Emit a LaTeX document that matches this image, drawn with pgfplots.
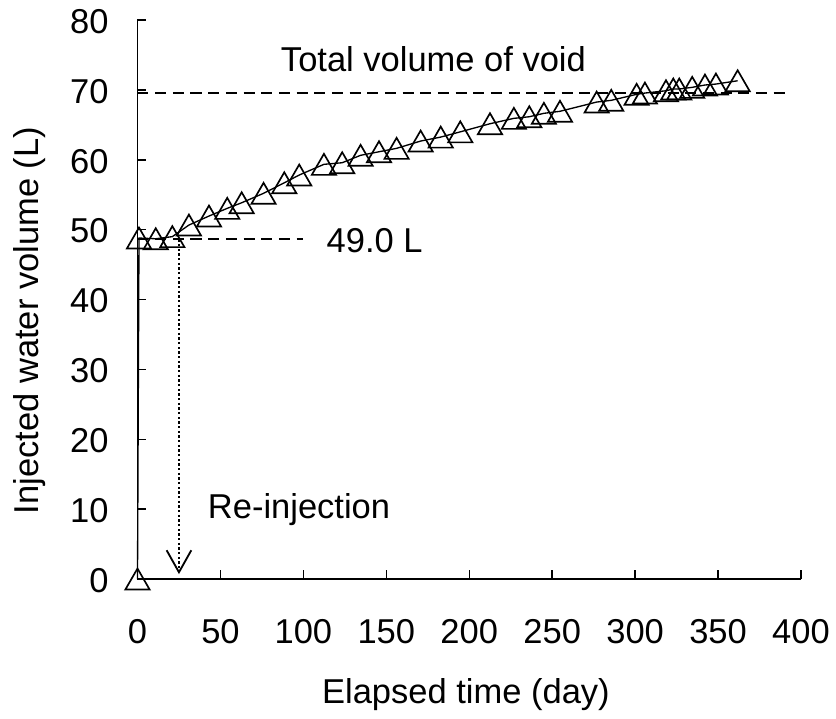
\documentclass[border=0pt]{standalone}
\usepackage{fontspec}
\setmainfont{Liberation Sans}
\usepackage{pgfplots}
\pgfplotsset{compat=1.18}
\usetikzlibrary{arrows.meta}
\begin{document}
\fontsize{10.35}{12.4}\selectfont
\begin{tikzpicture}
\begin{axis}[
  at={(0,0)}, anchor=south west,
  scale only axis, width=199.05pt, height=167.7pt,
  xmin=0, xmax=400, ymin=0, ymax=80,
  axis x line*=bottom, axis y line*=left,
  axis line style={-, line width=0.55pt, black},
  xtick={0,50,...,400}, ytick={0,10,...,80},
  tick align=inside, major tick length=2.7pt,
  tick style={line width=0.45pt, black},
  /pgf/number format/assume math mode=true,
  xticklabel style={anchor=north, inner sep=0pt, yshift=-12pt},
  yticklabel style={anchor=east, inner sep=0pt, xshift=-8.5pt, yshift=-0.4pt},
  xlabel={Elapsed time (day)},
  ylabel={Injected water volume (L)},
  xlabel style={at={(axis description cs:0.495,0)}, anchor=base, yshift=-37.2pt, inner sep=0pt},
  ylabel style={at={(axis description cs:-0.1495,0.4624)}, anchor=base, inner sep=0pt},
  clip=false,
]
\addplot[black, line width=0.6pt, dash pattern=on 3.3pt off 2pt, mark=none] coordinates {(0,69.6) (391.5,69.6)};
\addplot[black, line width=0.6pt, dash pattern=on 3.3pt off 2pt, mark=none] coordinates {(0,48.6) (100,48.6)};
\addplot[black, line width=0.7pt, dash pattern=on 0.7pt off 0.7pt, -{Straight Barb[length=6.6pt, width=7.4pt, line width=0.55pt]}] coordinates {(25,48.6) (25,0.7)};
\addplot[black, line width=0.4pt, mark=triangle, mark size=4.2pt, mark options={solid, line width=0.5pt, yshift=-1.05pt}] coordinates {
(0,0) (0.9,48.8) (11.0,48.7) (21.0,49.0) (31.0,50.66) (43.1,51.95) (54.1,53.05) (62.8,53.85)
(76.0,55.2) (88.5,56.71) (97.5,57.82) (112.4,59.35) (123.4,59.58) (134.5,60.64) (145.6,61.15)
(156.2,61.64) (170.7,62.68) (182.8,63.25) (194.6,64.0) (212.5,65.16) (226.9,65.93) (236.2,66.16)
(245.0,66.65) (254.7,66.94) (276.8,68.26) (285.6,68.51) (300.9,69.37) (305.9,69.55) (318.6,69.88)
(323.0,70.13) (326.6,70.13) (334.4,70.37) (342.1,70.7) (348.7,70.84) (361.8,71.31)
};
\node[anchor=base, inner sep=0pt] at (axis cs:178.4,72.6) {Total volume of void};
\node[anchor=base, inner sep=0pt] at (axis cs:143,46.7) {49.0 L};
\node[anchor=base, inner sep=0pt] at (axis cs:97.4,8.68) {Re-injection};
\end{axis}
\pgfresetboundingbox
\path[use as bounding box] (-41.25pt,-41.7pt) rectangle (209.55pt,173.7pt);
\end{tikzpicture}
\end{document}
